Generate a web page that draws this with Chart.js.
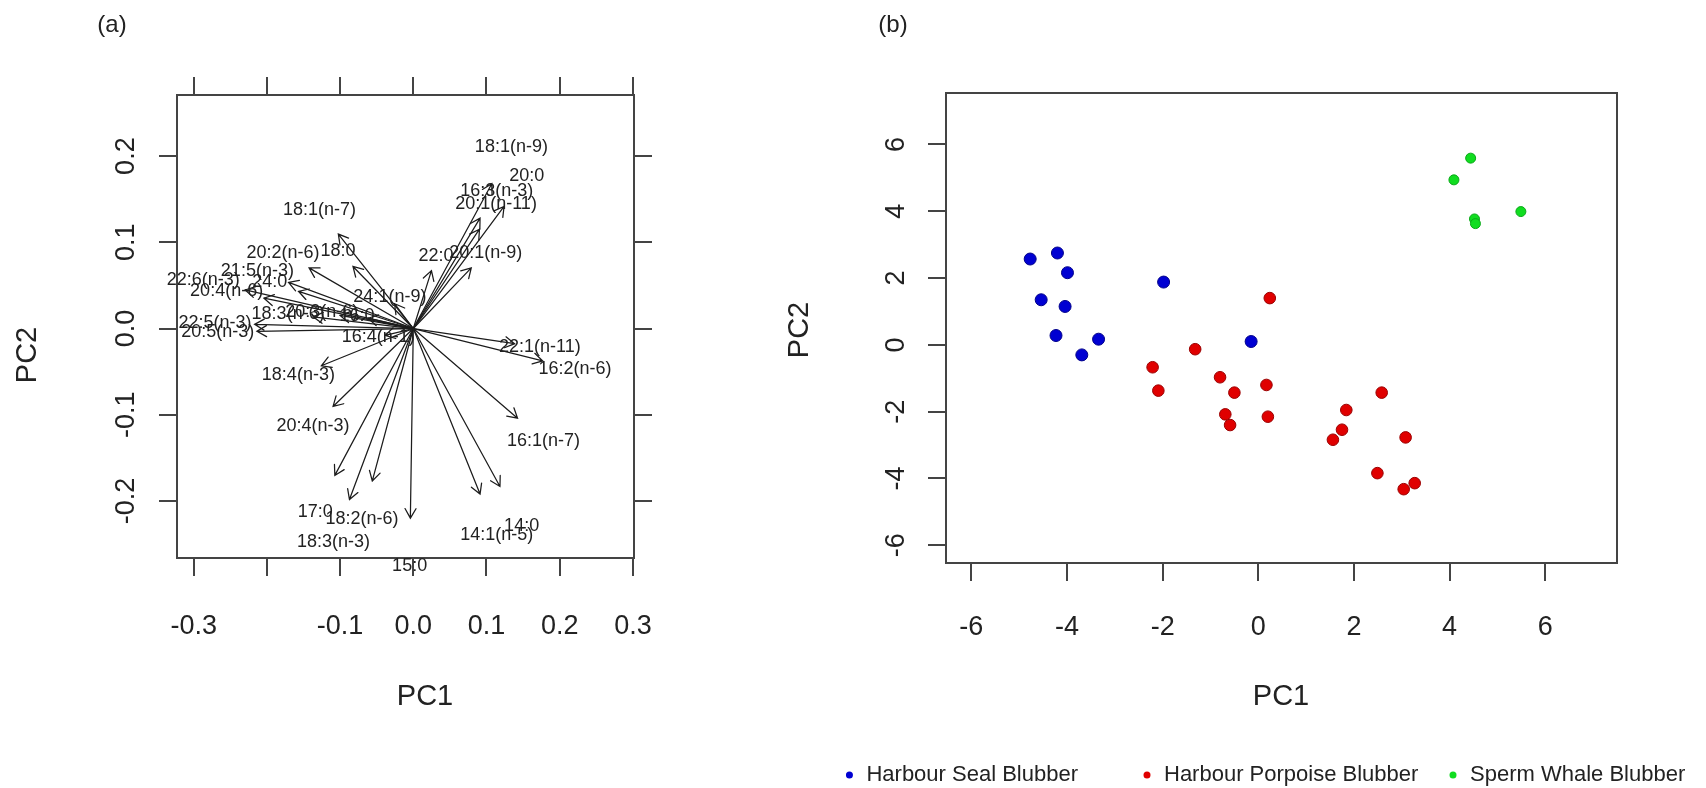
<!DOCTYPE html>
<html><head><meta charset="utf-8">
<script src="https://cdn.jsdelivr.net/npm/chart.js@4.4.1/dist/chart.umd.min.js"></script>
<style>
html,body{margin:0;padding:0;background:#fff;}
body{width:1706px;height:788px;position:relative;overflow:hidden;}
canvas{position:absolute;top:0;}
#ca{left:0;} #cb{left:760px;}
</style></head><body>
<canvas id="ca" width="760" height="788"></canvas>
<canvas id="cb" width="946" height="788"></canvas>
<script>
// ---------- Panel (a): biplot loadings (label positions; arrows drawn to 80%) ----------
const faLabels = ['18:1(n-9)','20:0','16:3(n-3)','20:1(n-11)','20:1(n-9)','22:0','18:1(n-7)','18:0','20:2(n-6)','21:5(n-3)','22:6(n-3)','20:4(n-6)','24:0','24:1(n-9)','18:3(n-6)','20:3(n-6)','16:0','22:5(n-3)','20:5(n-3)','16:4(n-1)','22:1(n-11)','16:2(n-6)','16:1(n-7)','18:4(n-3)','20:4(n-3)','17:0','18:2(n-6)','18:3(n-3)','15:0','14:0','14:1(n-5)'];
const faPC1 = [0.134,0.155,0.114,0.113,0.099,0.031,-0.128,-0.103,-0.178,-0.213,-0.287,-0.255,-0.196,-0.032,-0.171,-0.125,-0.077,-0.271,-0.267,-0.048,0.173,0.221,0.178,-0.157,-0.137,-0.134,-0.070,-0.109,-0.005,0.148,0.114];
const faPC2 = [0.210,0.177,0.160,0.144,0.088,0.084,0.137,0.090,0.088,0.067,0.056,0.044,0.054,0.036,0.017,0.019,0.015,0.006,-0.004,-0.010,-0.022,-0.047,-0.130,-0.054,-0.113,-0.213,-0.221,-0.248,-0.275,-0.229,-0.240];
const ARROW_FRAC = 0.8;
const xTickValuesA = [-0.3,-0.2,-0.1,0,0.1,0.2,0.3];
const xTickLabelsA = ['-0.3','','-0.1','0.0','0.1','0.2','0.3'];
const yTickValuesA = [-0.2,-0.1,0,0.1,0.2];
const yTickLabelsA = ['-0.2','-0.1','0.0','0.1','0.2'];

// ---------- Panel (b): PCA scores ----------
const seriesNames = ['Harbour Seal Blubber','Harbour Porpoise Blubber','Sperm Whale Blubber'];
const sealPC1 = [-4.77,-4.20,-3.99,-4.54,-4.04,-4.23,-3.34,-3.69,-1.98,-0.15];
const sealPC2 = [2.57,2.75,2.16,1.35,1.15,0.28,0.17,-0.30,1.88,0.10];
const porpoisePC1 = [0.24,-1.32,-2.21,-2.09,-0.80,-0.50,-0.69,-0.59,0.17,0.20,2.58,1.84,1.75,1.56,3.08,2.49,3.04,3.27];
const porpoisePC2 = [1.40,-0.13,-0.67,-1.37,-0.97,-1.43,-2.08,-2.40,-1.20,-2.15,-1.43,-1.95,-2.54,-2.84,-2.77,-3.84,-4.32,-4.14];
const whalePC1 = [4.44,4.09,4.52,4.54,5.49];
const whalePC2 = [5.59,4.94,3.77,3.63,3.99];
const tickValuesB = [-6,-4,-2,0,2,4,6];
const tickLabelsB = ['-6','-4','-2','0','2','4','6'];

// ---------- fonts ----------
const FAM = '"Liberation Sans", Arial, sans-serif';
const SZ = {tick: 27, title: 29, label: 18, legend: 22, panel: 24};
const AXC = '#444', TXT = '#222';
function widest(arr, size){
  const c = document.createElement('canvas').getContext('2d');
  c.font = size + 'px ' + FAM;
  return Math.max(...arr.map(s=>c.measureText(s).width));
}
Chart.defaults.font.family = FAM;
Chart.defaults.color = TXT;

const TL = 18;
function fix(prop, v){ return s => { s[prop] = v; }; }
function setTicks(vals){ return s => { s.ticks = vals.map(v=>({value:v})); }; }
function drawText(ctx, t, x, y, rot, size){
  ctx.save();
  ctx.translate(x, y); ctx.rotate(rot);
  ctx.font = size + 'px ' + FAM; ctx.fillStyle = TXT;
  ctx.textAlign = 'center'; ctx.textBaseline = 'middle';
  ctx.fillText(t, 0, 0);
  ctx.restore();
}

// ---------- chart (a) ----------
const A = {left:177, right:634, top:95, bottom:558, W:760, H:788};
const lhT = SZ.tick*1.2;
const arrowPlugin = {
  id:'arrows',
  afterDatasetsDraw(chart){
    const {ctx, scales:{x, y}} = chart;
    const ox = x.getPixelForValue(0), oy = y.getPixelForValue(0);
    const meta = chart.getDatasetMeta(0);
    ctx.save();
    ctx.strokeStyle = '#1c1c1c'; ctx.lineWidth = 1.25; ctx.lineCap = 'round';
    faLabels.forEach((lab, i) => {
      const tx = x.getPixelForValue(faPC1[i]*ARROW_FRAC), ty = y.getPixelForValue(faPC2[i]*ARROW_FRAC);
      const ang = Math.atan2(ty-oy, tx-ox), hl = 11, sp = Math.PI/6;
      ctx.beginPath();
      ctx.moveTo(ox, oy); ctx.lineTo(tx, ty);
      ctx.moveTo(tx - hl*Math.cos(ang-sp), ty - hl*Math.sin(ang-sp));
      ctx.lineTo(tx, ty);
      ctx.lineTo(tx - hl*Math.cos(ang+sp), ty - hl*Math.sin(ang+sp));
      ctx.stroke();
    });
    ctx.fillStyle = TXT; ctx.font = SZ.label + 'px ' + FAM;
    ctx.textAlign = 'center'; ctx.textBaseline = 'middle';
    faLabels.forEach((lab, i) => { const p = meta.data[i]; ctx.fillText(lab, p.x, p.y); });
    ctx.restore();
  },
  afterDraw(chart){
    const ctx = chart.ctx;
    drawText(ctx, '(a)', 112, 25, 0, SZ.panel);
    drawText(ctx, chart.options.scales.x.title.text, 425, 697, 0, SZ.title);
    drawText(ctx, chart.options.scales.y.title.text, 28, 355, -Math.PI/2, SZ.title);
  }
};
const wA = widest(yTickLabelsA, SZ.tick);
new Chart(document.getElementById('ca'), {
  type:'scatter',
  data:{datasets:[{label:'loadings', data: faLabels.map((l,i)=>({x:faPC1[i], y:faPC2[i]})), pointRadius:0, pointHoverRadius:0}]},
  options:{
    responsive:false, animation:false, devicePixelRatio:1, events:[],
    layout:{padding:0},
    plugins:{legend:{display:false}, tooltip:{enabled:false}},
    scales:{
      x:{type:'linear', position:'bottom', min:-0.3228, max:0.3015,
         afterBuildTicks:setTicks(xTickValuesA), afterFit:fix('height', A.H-A.bottom),
         ticks:{callback:(v,i)=>xTickLabelsA[i], font:{size:SZ.tick}, color:TXT, padding: 627-A.bottom-TL-lhT/2, maxRotation:0, autoSkip:false},
         grid:{drawOnChartArea:false, drawTicks:true, tickLength:TL, color:AXC, lineWidth:2},
         border:{display:true, color:AXC, width:2},
         title:{display:false, text:'PC1'}},
      x2:{type:'linear', position:'top', min:-0.3228, max:0.3015,
         afterBuildTicks:setTicks(xTickValuesA), afterFit:fix('height', A.top),
         ticks:{display:false}, grid:{drawOnChartArea:false, drawTicks:true, tickLength:TL, color:AXC, lineWidth:2},
         border:{display:true, color:AXC, width:2}},
      y:{type:'linear', position:'left', min:-0.2662, max:0.2709,
         afterBuildTicks:setTicks(yTickValuesA), afterFit:fix('width', A.left),
         ticks:{callback:(v,i)=>yTickLabelsA[i], font:{size:SZ.tick}, color:TXT, minRotation:90, maxRotation:90, crossAlign:'center', padding: A.left-TL-127-wA/2, autoSkip:false},
         grid:{drawOnChartArea:false, drawTicks:true, tickLength:TL, color:AXC, lineWidth:2},
         border:{display:true, color:AXC, width:2},
         title:{display:false, text:'PC2'}},
      y2:{type:'linear', position:'right', min:-0.2662, max:0.2709,
         afterBuildTicks:setTicks(yTickValuesA), afterFit:fix('width', A.W-A.right),
         ticks:{display:false}, grid:{drawOnChartArea:false, drawTicks:true, tickLength:TL, color:AXC, lineWidth:2},
         border:{display:true, color:AXC, width:2}}
    }
  },
  plugins:[arrowPlugin]
});

// ---------- chart (b) ----------
const OX = 760;
const B = {left:946-OX, right:1617-OX, top:93, bottom:563, W:946, H:788};
const colors = ['#0000d2','#e00000','#10dd20'];
const borders = ['#00008a','#9a0000','#0aa818'];
const legendX = [1078, 1164, 1470]; // seal text end, others text start (page px)
const legendPlugin = {
  id:'legendRow',
  afterDraw(chart){
    const ctx = chart.ctx;
    ctx.save();
    ctx.font = SZ.legend + 'px ' + FAM; ctx.textBaseline = 'middle';
    const yL = 775;
    chart.data.datasets.forEach((ds, i) => {
      const w = ctx.measureText(ds.label).width;
      const tx = (i === 0 ? legendX[0] - w : legendX[i]) - OX;
      ctx.fillStyle = ds.backgroundColor;
      ctx.beginPath(); ctx.arc(tx - 17, yL, 3.5, 0, Math.PI*2); ctx.fill();
      ctx.fillStyle = TXT; ctx.textAlign = 'left';
      ctx.fillText(ds.label, tx, yL);
    });
    ctx.restore();
    drawText(ctx, '(b)', 893-OX, 25, 0, SZ.panel);
    drawText(ctx, chart.options.scales.x.title.text, 1281-OX, 697, 0, SZ.title);
    drawText(ctx, chart.options.scales.y.title.text, 800-OX, 330, -Math.PI/2, SZ.title);
  }
};
const wB = widest(tickLabelsB, SZ.tick);
const mk = (xs, ys) => xs.map((v,i)=>({x:v, y:ys[i]}));
new Chart(document.getElementById('cb'), {
  type:'scatter',
  data:{datasets:[
    {label:seriesNames[0], data:mk(sealPC1, sealPC2), backgroundColor:colors[0], borderColor:borders[0], borderWidth:1, pointRadius:6},
    {label:seriesNames[1], data:mk(porpoisePC1, porpoisePC2), backgroundColor:colors[1], borderColor:borders[1], borderWidth:1, pointRadius:5.8},
    {label:seriesNames[2], data:mk(whalePC1, whalePC2), backgroundColor:colors[2], borderColor:borders[2], borderWidth:1, pointRadius:5}
  ]},
  options:{
    responsive:false, animation:false, devicePixelRatio:1, events:[],
    layout:{padding:0},
    plugins:{legend:{display:false}, tooltip:{enabled:false}},
    scales:{
      x:{type:'linear', position:'bottom', min:-6.53, max:7.50,
         afterBuildTicks:setTicks(tickValuesB), afterFit:fix('height', B.H-B.bottom),
         ticks:{callback:(v,i)=>tickLabelsB[i], font:{size:SZ.tick}, color:TXT, padding: 628-B.bottom-TL-lhT/2, maxRotation:0, autoSkip:false},
         grid:{drawOnChartArea:false, drawTicks:true, tickLength:TL, color:AXC, lineWidth:2},
         border:{display:true, color:AXC, width:2},
         title:{display:false, text:'PC1'}},
      x2:{type:'linear', position:'top', min:-6.53, max:7.50, afterFit:fix('height', B.top),
         ticks:{display:false}, grid:{display:false}, border:{display:true, color:AXC, width:2}},
      y:{type:'linear', position:'left', min:-6.53, max:7.54,
         afterBuildTicks:setTicks(tickValuesB), afterFit:fix('width', B.left),
         ticks:{callback:(v,i)=>tickLabelsB[i], font:{size:SZ.tick}, color:TXT, minRotation:90, maxRotation:90, crossAlign:'center', padding: B.left-TL-(897-OX)-wB/2, autoSkip:false},
         grid:{drawOnChartArea:false, drawTicks:true, tickLength:TL, color:AXC, lineWidth:2},
         border:{display:true, color:AXC, width:2},
         title:{display:false, text:'PC2'}},
      y2:{type:'linear', position:'right', min:-6.53, max:7.54, afterFit:fix('width', B.W-B.right),
         ticks:{display:false}, grid:{display:false}, border:{display:true, color:AXC, width:2}}
    }
  },
  plugins:[legendPlugin]
});
</script>
</body></html>
